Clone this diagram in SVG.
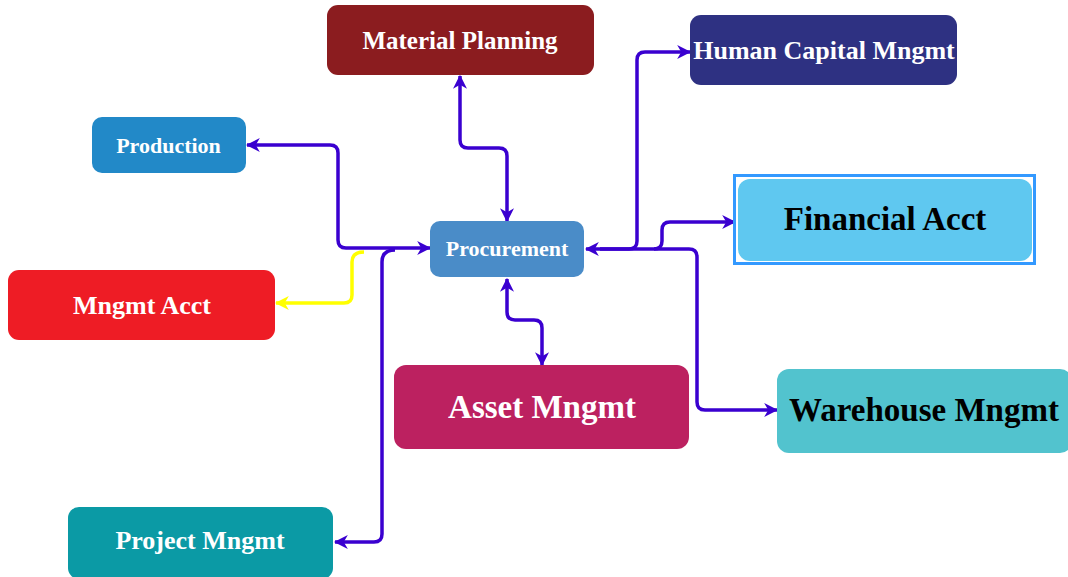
<svg xmlns="http://www.w3.org/2000/svg" width="1068" height="577" viewBox="0 0 1068 577">
<defs>
<marker id="arr" viewBox="0 0 12 12" refX="11" refY="6" markerWidth="14" markerHeight="14" markerUnits="userSpaceOnUse" orient="auto-start-reverse">
<path d="M0,0 L12,6 L0,12 L3.5,6 z" fill="#3A00D0"/>
</marker>
<marker id="arrY" viewBox="0 0 12 12" refX="11" refY="6" markerWidth="14" markerHeight="14" markerUnits="userSpaceOnUse" orient="auto-start-reverse">
<path d="M0,0 L12,6 L0,12 L3.5,6 z" fill="#FFFF00"/>
</marker>
</defs>
<style>
.n{stroke:none}
.t{font-family:"Liberation Serif","Times New Roman",serif;font-weight:bold;text-anchor:middle}
.w{fill:#FFFFFF}
.k{fill:#000000}
.c{fill:none;stroke:#3A00D0;stroke-width:3.5;stroke-linejoin:round}
.cy{fill:none;stroke:#FFFF00;stroke-width:3.5;stroke-linejoin:round}
</style>
<rect width="1068" height="577" fill="#FFFFFF"/>
<g id="connectors">
<path class="c" d="M247,145 H330 Q338,145 338,153 V240 Q338,248 346,248 H430" marker-start="url(#arr)" marker-end="url(#arr)"/>
<path class="cy" d="M364,252 Q352,252 352,262 V295 Q352,303 344,303 H276" marker-end="url(#arrY)"/>
<path class="c" d="M395,250 Q382,250 382,262 V534 Q382,542 374,542 H335" marker-end="url(#arr)"/>
<path class="c" d="M460,76 V140 Q460,148 468,148 H499 Q507,148 507,156 V221" marker-start="url(#arr)" marker-end="url(#arr)"/>
<path class="c" d="M507,279 V312 Q507,320 515,320 H534 Q542,320 542,328 V365" marker-start="url(#arr)" marker-end="url(#arr)"/>
<path class="c" d="M586,249 H629 Q637,249 637,241 V60 Q637,52 645,52 H690" marker-start="url(#arr)" marker-end="url(#arr)"/>
<path class="c" d="M654,249 Q662,249 662,241 V230 Q662,222 670,222 H735" marker-end="url(#arr)"/>
<path class="c" d="M600,249 H689 Q697,249 697,257 V402 Q697,410 705,410 H777" marker-end="url(#arr)"/>
</g>
<g id="material-planning">
<rect class="n" x="327" y="5" width="267" height="70" rx="11" fill="#8B1C1F"/>
<text class="t w" x="460" y="49" font-size="25">Material Planning</text>
</g>
<g id="human-capital">
<rect class="n" x="690" y="15" width="267" height="70" rx="11" fill="#2E3182"/>
<text class="t w" x="824" y="59" font-size="26">Human Capital Mngmt</text>
</g>
<g id="production">
<rect class="n" x="92" y="117" width="154" height="56" rx="10" fill="#2289C8"/>
<text class="t w" x="168.5" y="153" font-size="22">Production</text>
</g>
<g id="procurement">
<rect class="n" x="430" y="221" width="154" height="56" rx="10" fill="#4A8CC8"/>
<text class="t w" x="507" y="256" font-size="22">Procurement</text>
</g>
<g id="mngmt-acct">
<rect class="n" x="8" y="270" width="267" height="70" rx="11" fill="#EE1C25"/>
<text class="t w" x="142" y="314" font-size="26">Mngmt Acct</text>
</g>
<g id="financial-acct">
<rect x="734.5" y="175.5" width="300" height="88" fill="#FFFFFF" stroke="#3399FF" stroke-width="3"/>
<rect class="n" x="738" y="179" width="294" height="82" rx="12" fill="#5FC8F0"/>
<text class="t k" x="885" y="230" font-size="33">Financial Acct</text>
</g>
<g id="asset-mngmt">
<rect class="n" x="394" y="365" width="295" height="84" rx="12" fill="#BC2160"/>
<text class="t w" x="542" y="418" font-size="33">Asset Mngmt</text>
</g>
<g id="warehouse-mngmt">
<rect class="n" x="777" y="369" width="295" height="84" rx="12" fill="#52C3CE"/>
<text class="t k" x="924" y="421" font-size="33">Warehouse Mngmt</text>
</g>
<g id="project-mngmt">
<rect class="n" x="68" y="507" width="265" height="72" rx="11" fill="#0B9AA5"/>
<text class="t w" x="200" y="549" font-size="26">Project Mngmt</text>
</g>
</svg>
